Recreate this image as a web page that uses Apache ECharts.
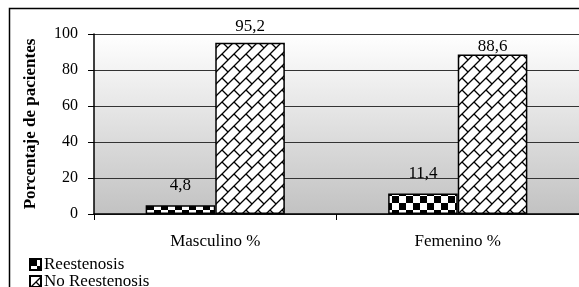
<!DOCTYPE html>
<html>
<head>
<meta charset="utf-8">
<script src="https://cdn.jsdelivr.net/npm/echarts@6/dist/echarts.min.js"></script>
<style>
html,body{margin:0;padding:0;background:#fff;}
#c{width:579px;height:287px;}
</style>
</head>
<body>
<div id="c"></div>
<script>
const categories = ['Masculino %', 'Femenino %'];
const seriesNames = ['Reestenosis', 'No Reestenosis'];
const reestenosis = [4.8, 11.4];
const noReestenosis = [95.2, 88.6];
const yTicks = [0, 20, 40, 60, 80, 100];
const labelDistReest = [11, 11];
const labelDistNo = [8, -1];

function checker() {
  const s = 7, c = document.createElement('canvas');
  c.width = 2 * s; c.height = 2 * s;
  const g = c.getContext('2d');
  g.fillStyle = '#fff'; g.fillRect(0, 0, 2 * s, 2 * s);
  g.fillStyle = '#000';
  g.fillRect(0, 0, s, s); g.fillRect(s, s, s, s);
  return c;
}
function brick() {
  const s = 12, c = document.createElement('canvas');
  c.width = s; c.height = s;
  const g = c.getContext('2d');
  g.fillStyle = '#fff'; g.fillRect(0, 0, s, s);
  g.strokeStyle = '#000'; g.lineWidth = 1.3;
  g.beginPath();
  g.moveTo(-2, s + 2); g.lineTo(s + 2, -2);
  g.moveTo(-2, 2); g.lineTo(2, -2);
  g.moveTo(s - 2, s + 2); g.lineTo(s + 2, s - 2);
  g.moveTo(s / 2, s / 2); g.lineTo(s, s);
  g.stroke();
  return c;
}
const font = 'Liberation Serif';
const chart = echarts.init(document.getElementById('c'), null, {renderer: 'canvas'});
const fmt = p => String(p.value).replace('.', ',');
chart.setOption({
  animation: false,
  textStyle: {fontFamily: font},
  graphic: [{
    type: 'rect', shape: {x: 9.5, y: 8.5, width: 620, height: 320},
    style: {fill: null, stroke: '#000', lineWidth: 1.5}, z: 100, silent: true
  }],
  grid: {
    left: 94, top: 34, right: -3, bottom: 73, show: true, borderWidth: 0,
    backgroundColor: new echarts.graphic.LinearGradient(0, 0, 0, 1, [
      {offset: 0, color: '#ffffff'}, {offset: 1, color: '#c2c2c2'}
    ])
  },
  legend: {
    orient: 'vertical', left: 29, top: 256, height: 60, itemGap: 0, itemWidth: 11, itemHeight: 11,
    icon: 'rect', data: seriesNames, padding: 0,
    textStyle: {fontFamily: font, fontSize: 17, color: '#000', lineHeight: 16, padding: [0, 0, 0, -2]}
  },
  xAxis: {
    type: 'category', data: categories,
    axisLine: {lineStyle: {color: '#000', width: 1.5}},
    axisTick: {show: true, length: 6, lineStyle: {color: '#000'}},
    axisLabel: {color: '#000', fontSize: 17, fontFamily: font, margin: 19}
  },
  yAxis: {
    type: 'value', min: yTicks[0], max: yTicks[yTicks.length - 1], interval: 20,
    name: 'Porcentaje de pacientes', nameLocation: 'middle', nameGap: 55,
    nameTextStyle: {fontFamily: font, fontSize: 17, fontWeight: 'bold', color: '#000'},
    axisLine: {show: true, lineStyle: {color: '#000', width: 1.5}},
    axisTick: {show: true, length: 6, lineStyle: {color: '#000'}},
    axisLabel: {color: '#000', fontSize: 16, fontFamily: font, margin: 16},
    splitLine: {show: true, lineStyle: {color: '#333', width: 1}}
  },
  series: [{
    name: seriesNames[0], type: 'bar', barGap: '0%', barCategoryGap: '42.6%',
    data: reestenosis.map((v, i) => ({value: v, label: {distance: labelDistReest[i]}})),
    itemStyle: {color: {image: checker(), repeat: 'repeat'}, borderColor: '#000', borderWidth: 1.5},
    label: {show: true, position: 'top', formatter: fmt, color: '#000', fontSize: 17, fontFamily: font}
  }, {
    name: seriesNames[1], type: 'bar',
    data: noReestenosis.map((v, i) => ({value: v, label: {distance: labelDistNo[i]}})),
    itemStyle: {color: {image: brick(), repeat: 'repeat'}, borderColor: '#000', borderWidth: 1.5},
    label: {show: true, position: 'top', formatter: fmt, color: '#000', fontSize: 17, fontFamily: font}
  }]
});
</script>
</body>
</html>
